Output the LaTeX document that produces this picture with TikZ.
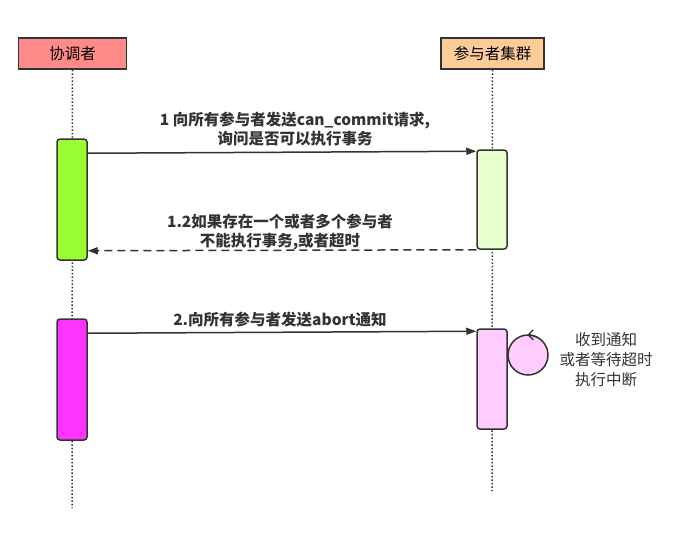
\documentclass[tikz,border=0pt]{standalone}
\usepackage{fontspec}
\setmainfont{Noto Sans CJK SC}
\usetikzlibrary{positioning,arrows.meta}

\definecolor{headA}{HTML}{FF8A8A}
\definecolor{headB}{HTML}{FFCC99}
\definecolor{actGreen}{HTML}{99FF33}
\definecolor{actLight}{HTML}{E6FFCC}
\definecolor{actMag}{HTML}{FF33FF}
\definecolor{actPink}{HTML}{FFCCFF}
\definecolor{edge}{HTML}{333333}

\tikzset{
    header/.style={draw=edge, line width=1.5pt, minimum width=108pt, minimum height=31pt,
        inner sep=0pt, font=\fontsize{15.5}{18}\selectfont},
    activation/.style={draw=edge, line width=1.5pt, rounded corners=3pt,
        minimum width=30pt, inner sep=0pt},
    lifeline/.style={edge, line width=1.5pt, dotted},
    msg/.style={edge, line width=1.5pt, -{Triangle[length=10pt,width=7pt]}},
    msglabel/.style={font=\fontsize{15.5}{19.5}\selectfont\bfseries, align=center, text=edge}
}

\begin{document}
\begin{tikzpicture}[x=1pt,y=1pt]
    \useasboundingbox (0,0) rectangle (688,-533);
    % Headers
    \node[header, fill=headA] (coord) at (72.5,-53.5) {协调者};
    \node[header, fill=headB, minimum width=103pt] (cluster) at (492.5,-53.5) {参与者集群};
    % Lifelines
    \coordinate (coordEnd) at (72,-508);
    \coordinate (clusterEnd) at (492,-491);
    \draw[lifeline] (coord.south) -- (coordEnd);
    \draw[lifeline] (cluster.south) -- (clusterEnd);
    % Activations
    \node[activation, fill=actGreen, minimum height=121pt] (askA) at (72,-199.5) {};
    \node[activation, fill=actLight, minimum height=99pt] (askB) at (492,-199.5) {};
    \node[activation, fill=actMag, minimum height=121pt] (abortA) at (72,-379.5) {};
    \node[activation, fill=actPink, minimum height=100pt] (abortB) at (492,-379) {};
    % Self loop
    \node[circle, draw=edge, line width=1.5pt, fill=actPink, minimum size=40pt, inner sep=0pt] (loop) at (528,-355) {};
    \draw[edge, line width=1.3pt, -{Straight Barb[length=5pt,width=10pt,line width=1.3pt]}] ([shift={(60:20pt)}]loop.center) arc[start angle=60, end angle=92, radius=20pt];
    \node[font=\fontsize{15.5}{20}\selectfont, align=center, text=edge] (abortNote) at (606,-360) {收到通知\\或者等待超时\\执行中断};
    % Messages
    \draw[msg] ([yshift=-15pt]askA.north east) -- node[msglabel, above=2pt, xshift=13pt] {1 向所有参与者发送can\_commit请求,\\询问是否可以执行事务} ([yshift=-2pt]askB.north west);
    \draw[msg, dash pattern=on 8pt off 5pt] (askB.south west) -- node[msglabel, above=-4pt, xshift=-2pt] {1.2如果存在一个或者多个参与者\\不能执行事务,或者超时} ([yshift=10pt]askA.south east);
    \draw[msg] ([yshift=-15pt]abortA.north east) -- node[msglabel, above=1pt, xshift=-2pt] {2.向所有参与者发送abort通知} ([yshift=-3pt]abortB.north west);
\end{tikzpicture}
\end{document}
